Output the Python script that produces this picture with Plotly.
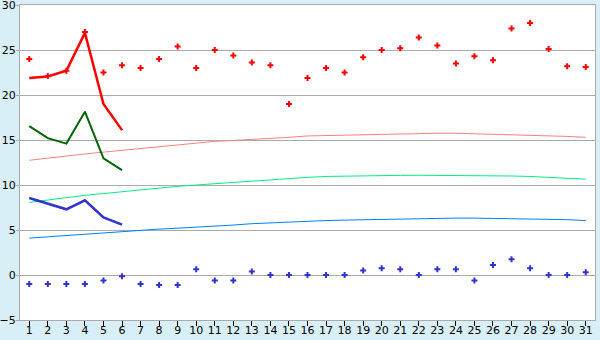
import plotly.graph_objects as go

days = [str(d) for d in range(1, 32)]

red_points = [24, 22.1, 22.7, 27, 22.5, 23.3, 23, 24, 25.4, 23, 25, 24.4, 23.6, 23.3, 19,
              21.9, 23, 22.5, 24.2, 25, 25.2, 26.4, 25.5, 23.5, 24.3, 23.85, 27.4, 28, 25.1, 23.2, 23.1]
blue_points = [-1, -1, -1, -1, -0.6, -0.15, -1, -1.1, -1.1, 0.65, -0.6, -0.6, 0.4, 0, 0,
               0, 0, 0, 0.5, 0.75, 0.65, 0, 0.65, 0.65, -0.6, 1.1, 1.75, 0.75, 0, 0, 0.3]

red_line = [21.9, 22.05, 22.7, 26.9, 19.0, 16.1]
green_line = [16.55, 15.2, 14.6, 18.15, 12.95, 11.65]
blue_line = [8.55, 7.95, 7.3, 8.3, 6.4, 5.6]

pink_norm = [12.75, 13.0, 13.25, 13.45, 13.65, 13.85, 14.05, 14.25, 14.45, 14.65, 14.85, 14.95,
             15.05, 15.2, 15.3, 15.45, 15.5, 15.55, 15.6, 15.65, 15.65, 15.7, 15.75, 15.75, 15.7,
             15.65, 15.6, 15.55, 15.5, 15.4, 15.3]
green_norm = [8.07, 8.35, 8.6, 8.85, 9.05, 9.25, 9.5, 9.7, 9.85, 10.0, 10.15, 10.3, 10.45, 10.6,
              10.75, 10.85, 10.95, 11.0, 11.0, 11.05, 11.07, 11.08, 11.08, 11.07, 11.05, 11.0,
              11.0, 10.95, 10.85, 10.75, 10.65]
blue_norm = [4.1, 4.25, 4.4, 4.55, 4.7, 4.85, 5.0, 5.1, 5.2, 5.3, 5.45, 5.55, 5.7, 5.8, 5.9, 6.0,
             6.05, 6.1, 6.15, 6.2, 6.25, 6.28, 6.3, 6.32, 6.32, 6.3, 6.28, 6.25, 6.2, 6.15, 6.05]

y_ticks = [-5, 0, 5, 10, 15, 20, 25, 30]

fig = go.Figure()
fig.add_trace(go.Scatter(x=days, y=pink_norm, mode="lines", line=dict(color="#FF8080", width=1)))
fig.add_trace(go.Scatter(x=days, y=green_norm, mode="lines", line=dict(color="#00F080", width=1)))
fig.add_trace(go.Scatter(x=days, y=blue_norm, mode="lines", line=dict(color="#0080FF", width=1)))
fig.add_trace(go.Scatter(x=days[:6], y=red_line, mode="lines", line=dict(color="#FF0000", width=2.5)))
fig.add_trace(go.Scatter(x=days[:6], y=green_line, mode="lines", line=dict(color="#006400", width=2)))
fig.add_trace(go.Scatter(x=days[:6], y=blue_line, mode="lines", line=dict(color="#3333CC", width=2.5)))
fig.add_trace(go.Scatter(x=days, y=red_points, mode="markers",
                         marker=dict(symbol="cross", size=5, color="#FF0000", line=dict(width=0))))
fig.add_trace(go.Scatter(x=days, y=blue_points, mode="markers",
                         marker=dict(symbol="cross", size=5, color="#3333CC", line=dict(width=0))))

fig.update_layout(
    width=600, height=340,
    margin=dict(l=20, r=5, t=5, b=20),
    paper_bgcolor="#D9EFF7", plot_bgcolor="#FFFFFF",
    showlegend=False,
    font=dict(family="DejaVu Sans", size=11, color="#000000"),
)
fig.update_xaxes(type="category", categoryorder="array", categoryarray=days,
                 range=[-0.5, 30.5], showgrid=False, ticks="outside", ticklen=5,
                 tickcolor="#000000", showline=True, linecolor="#AAAAAA", mirror=True,
                 tickfont=dict(size=11), ticklabelstandoff=-5, automargin=False)
fig.update_yaxes(range=[-5, 30], tickvals=y_ticks, showgrid=True, gridcolor="#AAAAAA",
                 gridwidth=1, zeroline=False, ticks="outside", ticklen=3, tickcolor="#AAAAAA",
                 showline=True, linecolor="#AAAAAA", mirror=True, tickfont=dict(size=11),
                 ticklabeloverflow="allow", automargin=False, ticklabelstandoff=-2)

fig.write_html("out.html")
